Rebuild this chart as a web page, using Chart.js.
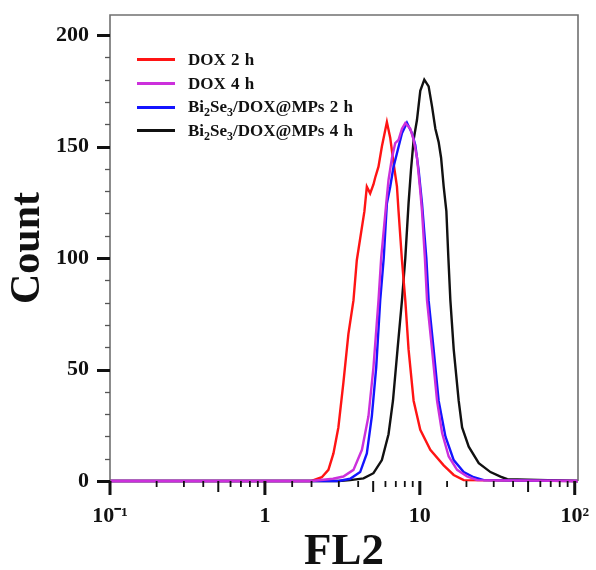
<!DOCTYPE html>
<html>
<head>
<meta charset="utf-8">
<script src="https://cdn.jsdelivr.net/npm/chart.js@4/dist/chart.umd.min.js"></script>
<style>
  html, body { margin: 0; padding: 0; background: #fff; }
  #wrap { position: relative; width: 596px; height: 570px; }
  #histo { position: absolute; left: 0; top: 0; }
  #legend { position: absolute; left: 137px; top: 48px; font: bold 17px "Liberation Serif", "Times New Roman", serif; color: #111; word-spacing: 1px; }
  #legend .row { display: flex; align-items: center; height: 23.7px; white-space: nowrap; }
  #legend .swatch { width: 38px; height: 3px; margin-right: 13px; }
  #legend sub { font-size: 12px; vertical-align: -4px; line-height: 0; }
</style>
</head>
<body>
<div id="wrap">
  <canvas id="histo" width="596" height="570"></canvas>
  <div id="legend"></div>
</div>
<script>
// FL2 fluorescence histograms (count vs FL2, log x axis)
var seriesNames = ["DOX 2 h", "DOX 4 h", "Bi₂Se₃/DOX@MPs 2 h", "Bi₂Se₃/DOX@MPs 4 h"];
var legendHtml = ["DOX 2 h", "DOX 4 h", "Bi<sub>2</sub>Se<sub>3</sub>/DOX@MPs 2 h", "Bi<sub>2</sub>Se<sub>3</sub>/DOX@MPs 4 h"];
var seriesColors = ["#ff1414", "#cc30dc", "#1414ff", "#111111"];

var fl2Dox2h = [0.1, 2.0, 2.33, 2.57, 2.77, 2.98, 3.21, 3.46, 3.73, 3.92, 4.39, 4.55, 4.78, 5.02, 5.15, 5.41, 5.69, 6.13, 6.44, 6.77, 7.12, 7.29, 7.67, 8.06, 8.46, 9.12, 10.07, 11.69, 14.26, 16.55, 19.2, 105];
var cntDox2h = [0, 0, 1.7, 5, 12.4, 24, 44, 66, 81, 99, 121, 132, 129, 133, 136, 141, 150, 161, 154, 142.5, 132, 121, 99, 81, 59, 36, 23, 14, 7, 2.7, 0.4, 0];

var fl2Dox4h = [0.1, 2.0, 2.75, 3.21, 3.73, 4.23, 4.66, 5.02, 5.41, 5.63, 6.07, 6.28, 6.61, 6.94, 7.29, 7.67, 8.06, 8.68, 9.12, 9.59, 10.07, 10.33, 10.78, 11.13, 11.99, 12.92, 13.93, 15.36, 17.41, 20.2, 23.46, 105];
var cntDox4h = [0, 0, 1, 2, 5, 14, 29, 51, 81, 100, 124.5, 135, 145, 151.5, 153, 158, 160.5, 158, 153, 145, 130, 121, 100, 81, 59, 36, 21.5, 11, 5, 2, 0.4, 0];

var fl2Mps2h = [0.1, 3.0, 3.55, 4.12, 4.55, 4.90, 5.23, 5.55, 5.85, 6.13, 6.44, 6.77, 7.12, 7.67, 8.26, 8.90, 9.35, 9.82, 10.33, 11.02, 11.40, 12.28, 13.23, 14.63, 16.55, 19.2, 22.30, 25.88, 105];
var cntMps2h = [0, 0, 1, 4, 12.4, 29, 51, 81, 100, 124.5, 132, 141, 147, 156, 160.7, 156, 150.7, 139.5, 124.5, 100, 81, 59, 36, 20, 9.4, 4, 1.7, 0.4, 0];

var fl2Mps4h = [0.1, 3.0, 3.55, 4.33, 5.02, 5.69, 6.28, 6.71, 7.18, 7.67, 8.06, 8.46, 8.77, 9.12, 9.59, 10.07, 10.69, 11.40, 11.99, 12.60, 13.23, 13.72, 14.26, 14.84, 15.29, 15.75, 16.55, 17.82, 18.75, 20.69, 24.02, 28.59, 33.19, 36.68, 105];
var cntMps4h = [0, 0, 0.4, 1.2, 3.5, 9.4, 21, 36, 59, 81, 100, 124.5, 139.5, 153, 162, 175, 180, 177, 168, 158, 152, 145, 132, 121, 100, 81, 59, 36, 24, 15.4, 8, 4, 2, 0.8, 0];

var xMin = 0.1, xMax = 105;
var yMin = 0, yMax = 209, yTop = 200;
var yLabelStep = 50, yMinorStep = 10;

function pairUp(xs, ys) {
  return xs.map(function (v, i) { return { x: v, y: ys[i] }; });
}

var seriesData = [
  pairUp(fl2Dox2h, cntDox2h),
  pairUp(fl2Dox4h, cntDox4h),
  pairUp(fl2Mps2h, cntMps2h),
  pairUp(fl2Mps4h, cntMps4h)
];
// magenta sits on top along the baseline
var drawOrder = [2, 0, 1, 3];

var serif = '"Liberation Serif", "Times New Roman", serif';

function isDecade(v) {
  var l = Math.log10(v);
  return Math.abs(l - Math.round(l)) < 1e-6;
}
function decadeLabel(v) {
  var p = Math.round(Math.log10(v));
  if (p === 0) return "1";
  if (p === 1) return "10";
  if (p === 2) return "10²";
  if (p === -1) return "10⁻¹";
  return "";
}

// frame + hand-sized tick marks (major/medium/minor)
var axisMarks = {
  id: "axisMarks",
  afterDatasetsDraw: function (chart) {
    var ctx = chart.ctx, a = chart.chartArea;
    var xs = chart.scales.x, ys = chart.scales.y;
    ctx.save();
    ctx.strokeStyle = "#707070";
    ctx.lineWidth = 1.6;
    ctx.beginPath();
    ctx.moveTo(a.left, a.bottom);
    ctx.lineTo(a.left, a.top);
    ctx.lineTo(a.right, a.top);
    ctx.lineTo(a.right, a.bottom);
    ctx.stroke();

    ys.ticks.forEach(function (t) {
      var py = Math.round(ys.getPixelForValue(t.value)) + 0.5;
      var major = t.value % yLabelStep === 0;
      ctx.beginPath();
      ctx.strokeStyle = major ? "#111" : "#555";
      ctx.lineWidth = major ? 3 : 1.3;
      ctx.moveTo(a.left - (major ? 13 : 5), py);
      ctx.lineTo(a.left, py);
      ctx.stroke();
    });

    xs.ticks.forEach(function (t) {
      var v = t.value;
      if (v > 100.0001) return;
      var mant = v / Math.pow(10, Math.floor(Math.log10(v) + 1e-9));
      var len = 6, w = 1.8;
      if (isDecade(v)) { len = 14; w = 3; }
      else if (Math.abs(mant - 5) < 1e-6) { len = 11; w = 2; }
      var px = xs.getPixelForValue(v);
      ctx.beginPath();
      ctx.strokeStyle = "#111";
      ctx.lineWidth = w;
      ctx.moveTo(px, a.bottom);
      ctx.lineTo(px, a.bottom + len);
      ctx.stroke();
    });
    ctx.restore();
  }
};

var ctx = document.getElementById("histo").getContext("2d");
var chart = new Chart(ctx, {
  type: "line",
  data: {
    datasets: seriesData.map(function (pts, i) {
      return {
        label: seriesNames[i],
        data: pts,
        borderColor: seriesColors[i],
        backgroundColor: seriesColors[i],
        borderWidth: 2.4,
        pointRadius: 0,
        tension: 0,
        fill: false,
        clip: 6,
        order: drawOrder[i]
      };
    })
  },
  options: {
    responsive: false,
    animation: false,
    events: [],
    layout: { autoPadding: false, padding: { top: 15, right: 18, left: 0, bottom: 0 } },
    plugins: { legend: { display: false }, tooltip: { enabled: false } },
    scales: {
      x: {
        type: "logarithmic",
        min: xMin,
        max: xMax,
        grid: { display: false, drawTicks: false },
        border: { display: false },
        ticks: {
          autoSkip: false,
          maxRotation: 0,
          padding: 22,
          color: "#111",
          font: { family: serif, size: 22, weight: "bold" },
          callback: function (v) { return isDecade(v) ? decadeLabel(v) : ""; }
        },
        title: {
          display: true,
          text: "FL2",
          color: "#111",
          font: { family: serif, size: 45, weight: "bold", lineHeight: 0.8 },
          padding: 0
        },
        afterFit: function (s) {
          s.height = 89;
          s.paddingLeft = 0; s.paddingRight = 0;
        }
      },
      y: {
        min: yMin,
        max: yMax,
        grid: { display: false, drawTicks: false },
        border: { display: false },
        ticks: {
          autoSkip: false,
          padding: 21,
          color: "#111",
          font: { family: serif, size: 22, weight: "bold" },
          callback: function (v) { return v % yLabelStep === 0 ? String(v) : ""; }
        },
        afterBuildTicks: function (s) {
          var list = [];
          for (var v = yMin; v <= yTop; v += yMinorStep) list.push({ value: v });
          s.ticks = list;
        },
        title: {
          display: true,
          text: "Count",
          color: "#111",
          font: { family: serif, size: 42, weight: "bold" },
          padding: { top: 3, bottom: 0 }
        },
        afterFit: function (s) {
          s.width = 110;
          s.paddingTop = 0; s.paddingBottom = 0;
        }
      }
    }
  },
  plugins: [axisMarks]
});

// legend with sub-scripted formula
var legendBox = document.getElementById("legend");
legendHtml.forEach(function (html, i) {
  var row = document.createElement("div");
  row.className = "row";
  row.innerHTML = '<span class="swatch" style="background:' + seriesColors[i] + '"></span><span>' + html + '</span>';
  legendBox.appendChild(row);
});
</script>
</body>
</html>
